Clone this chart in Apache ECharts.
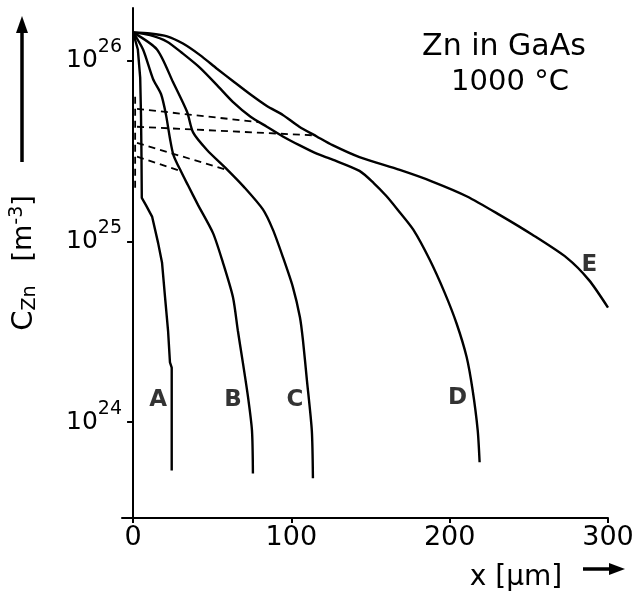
<!DOCTYPE html>
<html>
<head>
<meta charset="utf-8">
<script src="https://cdn.jsdelivr.net/npm/echarts@6/dist/echarts.min.js"></script>
<style>
html,body{margin:0;padding:0;background:#fff;}
#chart{width:639px;height:595px;}
</style>
</head>
<body>
<div id="chart"></div>
<script>
// Depth x [µm] and Zn concentration C [m^-3] for profiles A..E
const xA = [0, 3, 4.5, 5.0, 5.3, 5.5, 8.2, 12, 15.8, 18.3, 20.2, 22.1, 23.3, 24.4, 24.4];
const cA = [1.43e26, 1.15e26, 8.0e25, 5.0e25, 3.0e25, 1.74e25, 1.58e25, 1.37e25, 9.8e24, 7.6e24, 4.9e24, 3.2e24, 2.14e24, 2.0e24, 5.4e23];

const xB = [0, 6.3, 12.6, 17.7, 20.8, 23.3, 25.5, 30.3, 34.7, 41.0, 50.5, 56.8, 63.1, 66.2, 69.4, 72.6, 75.1, 75.7];
const cB = [1.43e26, 1.15e26, 7.9e25, 6.5e25, 5.0e25, 3.7e25, 3.0e25, 2.43e25, 2.04e25, 1.59e25, 1.11e25, 7.6e24, 4.9e24, 3.2e24, 2.12e24, 1.38e24, 9.0e23, 5.2e23];

const xC = [0, 15.1, 25.2, 34.1, 37.9, 46.7, 59.3, 70, 82.0, 88.3, 94.6, 100.9, 105.4, 107.3, 109.8, 112.9, 113.6];
const cC = [1.43e26, 1.15e26, 7.6e25, 5.2e25, 4.0e25, 3.2e25, 2.5e25, 2.0e25, 1.5e25, 1.16e25, 8.2e24, 5.6e24, 3.8e24, 2.84e24, 1.71e24, 9.0e23, 4.9e23];

const xD = [0, 10.7, 21.5, 31.5, 42.3, 53, 63, 74, 84.5, 94.6, 105, 116, 126, 143, 152, 160, 167, 177, 187.4, 196.8, 204.4, 210.7, 214.5, 217.7, 218.9];
const cD = [1.43e26, 1.38e26, 1.27e26, 1.09e26, 9.1e25, 7.3e25, 5.9e25, 4.9e25, 4.3e25, 3.8e25, 3.4e25, 3.05e25, 2.83e25, 2.45e25, 2.1e25, 1.78e25, 1.5e25, 1.16e25, 7.9e24, 5.2e24, 3.5e24, 2.29e24, 1.5e24, 9.0e23, 6.0e23];

const xE = [0, 10.7, 21.5, 31.5, 42.3, 53, 63, 74, 84.5, 94.6, 105, 116, 126, 143, 168.5, 189, 211, 231.5, 252, 274, 288, 300];
const cE = [1.43e26, 1.41e26, 1.36e26, 1.24e26, 1.07e26, 9.0e25, 7.7e25, 6.5e25, 5.6e25, 5.0e25, 4.3e25, 3.8e25, 3.4e25, 2.92e25, 2.48e25, 2.14e25, 1.77e25, 1.40e25, 1.09e25, 8.1e24, 6.1e24, 4.3e24];

// Dashed construction lines (start, end)
const dash1X = [2.5, 80],  dash1C = [5.4e25, 4.55e25];
const dash2X = [2.5, 114.8], dash2C = [4.3e25, 3.85e25];
const dash3X = [2.5, 58],  dash3C = [3.5e25, 2.5e25];
const dash4X = [2.5, 29.7], dash4C = [2.94e25, 2.45e25];
const dash5X = [1.3, 1.3], dash5C = [6.3e25, 1.93e25];

// Curve labels
const labNames = ['A', 'B', 'C', 'D', 'E'];
const labX = [15.8, 63.1, 102.2, 205, 288.3];
const labC = [1.32e24, 1.32e24, 1.32e24, 1.36e24, 7.4e24];

// Axis ticks
const xTicks = [0, 100, 200, 300];
const yTicks = [1e24, 1e25, 1e26];

const zip = (xs, ys) => xs.map((x, i) => [x, ys[i]]);
const FONT = 'DejaVu Sans';

function solid(name, xs, cs, smooth) {
  return {
    name, type: 'line', data: zip(xs, cs), symbol: 'none', smooth: smooth,
    lineStyle: {color: '#000', width: 2.4}, silent: true, z: 3
  };
}
function dashed(xs, cs) {
  return {
    type: 'line', data: zip(xs, cs), symbol: 'none',
    lineStyle: {color: '#000', width: 1.8, type: [7, 5]}, silent: true, z: 2
  };
}

const chart = echarts.init(document.getElementById('chart'), null, {renderer: 'canvas'});
chart.setOption({
  animation: false,
  backgroundColor: '#fff',
  grid: {left: 122, right: 31, top: 8, bottom: 77, containLabel: false, outerBoundsMode: 'none'},
  xAxis: {
    type: 'value', min: -7, max: 300,
    axisLine: {lineStyle: {color: '#000', width: 2}},
    axisTick: {show: true, length: 5, lineStyle: {color: '#000', width: 2}, customValues: xTicks},
    axisLabel: {color: '#000', fontFamily: FONT, fontSize: 27, margin: 6, customValues: xTicks},
    splitLine: {show: false}
  },
  yAxis: {
    type: 'log', logBase: 10, min: Math.pow(10, 23.47), max: Math.pow(10, 26.29),
    axisLine: {onZero: true, lineStyle: {color: '#000', width: 2}},
    axisTick: {show: true, length: 6, lineStyle: {color: '#000', width: 2}, customValues: yTicks},
    axisLabel: {
      customValues: yTicks, margin: 0,
      formatter: v => '{b|10}{s|' + Math.round(Math.log10(v)) + '}',
      rich: {
        b: {fontFamily: FONT, fontSize: 25, color: '#000', lineHeight: 25, verticalAlign: 'middle'},
        s: {fontFamily: FONT, fontSize: 19, color: '#000', lineHeight: 19, verticalAlign: 'bottom', padding: [0, 0, 16, 0]}
      }
    },
    splitLine: {show: false},
    name: '{c|C}{sub|Zn}{gap| }{b|[m}{sup|-3}{b|]}',
    nameLocation: 'middle', nameRotate: 90, nameGap: 80, nameMoveOverlap: false,
    nameTextStyle: {
      rich: {
        c: {fontFamily: FONT, fontSize: 29, color: '#000', lineHeight: 36, verticalAlign: 'middle'},
        sub: {fontFamily: FONT, fontSize: 19, color: '#000', lineHeight: 19, padding: [12, 0, 0, 0]},
        gap: {fontFamily: FONT, fontSize: 19, width: 24},
        b: {fontFamily: FONT, fontSize: 27, color: '#000', lineHeight: 36, verticalAlign: 'middle'},
        sup: {fontFamily: FONT, fontSize: 19, color: '#000', lineHeight: 19, padding: [0, 0, 14, 0]}
      }
    }
  },
  graphic: [
    {type: 'text', x: 504, y: 47, style: {text: 'Zn in GaAs', font: '30px "DejaVu Sans"', fill: '#000', align: 'center', verticalAlign: 'middle'}},
    {type: 'text', x: 510, y: 82, style: {text: '1000 °C', font: '29px "DejaVu Sans"', fill: '#000', align: 'center', verticalAlign: 'middle'}},
    {type: 'text', x: 516, y: 578, style: {text: 'x [µm]', font: '28px "DejaVu Sans"', fill: '#000', align: 'center', verticalAlign: 'middle'}},
    {type: 'line', shape: {x1: 22, y1: 162, x2: 22, y2: 30}, style: {stroke: '#000', lineWidth: 3.5}},
    {type: 'polygon', shape: {points: [[16, 33], [28, 33], [22, 16]]}, style: {fill: '#000'}},
    {type: 'line', shape: {x1: 583, y1: 569, x2: 612, y2: 569}, style: {stroke: '#000', lineWidth: 3.5}},
    {type: 'polygon', shape: {points: [[609, 563], [609, 575], [625, 569]]}, style: {fill: '#000'}}
  ],
  series: [
    solid('A', xA, cA, false),
    solid('B', xB, cB, 0.25),
    solid('C', xC, cC, 0.25),
    solid('D', xD, cD, 0.25),
    solid('E', xE, cE, 0.25),
    dashed(dash1X, dash1C),
    dashed(dash2X, dash2C),
    dashed(dash3X, dash3C),
    dashed(dash4X, dash4C),
    dashed(dash5X, dash5C),
    {
      type: 'scatter', symbolSize: 0, silent: true,
      data: labNames.map((n, i) => [labX[i], labC[i], n]),
      label: {show: true, position: 'inside', formatter: p => p.data[2], color: '#000', fontFamily: FONT, fontSize: 23, fontWeight: 'bold'}
    }
  ]
});
</script>
</body>
</html>
